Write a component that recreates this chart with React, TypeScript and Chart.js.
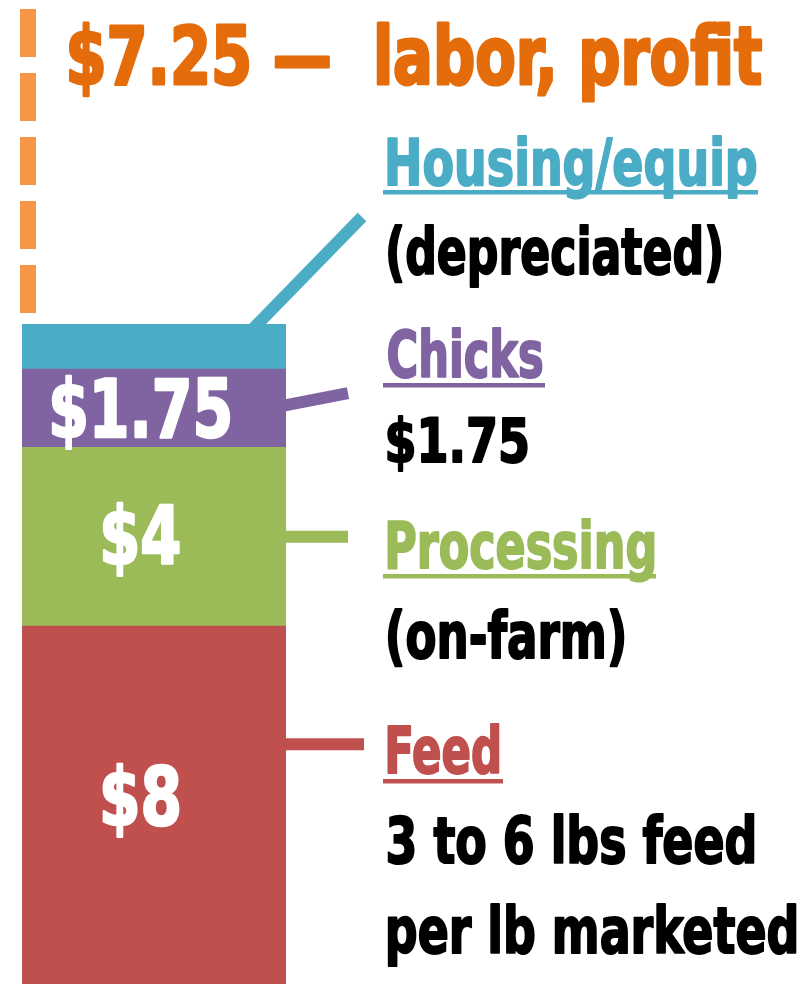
import React, { useEffect, useRef } from "react";
import { Chart, registerables } from "chart.js";

Chart.register(...registerables);

// ---- data ----
const categories = ["Cost per bird"];
const segmentNames = ["Feed", "Processing", "Chicks", "Housing/equip", "Labor, profit"];
const segmentValues = [8, 4, 1.75, 1, 7.25];
const segmentColors = ["#C0504D", "#9BBB59", "#8064A2", "#4BACC6", "rgba(0,0,0,0)"];
const barLabels = ["$8", "$4", "$1.75", "", ""];
const titleText = "$7.25 \u2014  labor, profit";

const FONT = "'DejaVu Sans Condensed', 'DejaVu Sans', sans-serif";

type TextSpec = { text: string; x: number; w: number; base: number; color: string; size: number; ul?: [number, number, number]; bold?: number };

const annotations: TextSpec[] = [
  { text: "Housing/equip", x: 387, w: 370, base: 185, color: "#4BACC6", size: 64, ul: [383, 758, 190] },
  { text: "(depreciated)", x: 387, w: 335, base: 274, color: "#000000", size: 64 },
  { text: "Chicks", x: 387, w: 156, base: 377, color: "#8064A2", size: 64, ul: [383, 545, 383] },
  { text: "$1.75", x: 387, w: 141, base: 462, color: "#000000", size: 60 },
  { text: "Processing", x: 387, w: 268, base: 568, color: "#9BBB59", size: 64, ul: [383, 656, 574] },
  { text: "(on-farm)", x: 387, w: 238, base: 658, color: "#000000", size: 64 },
  { text: "Feed", x: 387, w: 113, base: 773, color: "#C0504D", size: 64, ul: [383, 503, 779] },
  { text: "3 to 6 lbs feed", x: 387, w: 368, base: 863, color: "#000000", size: 64 },
  { text: "per lb marketed", x: 387, w: 410, base: 953, color: "#000000", size: 64 },
];

function drawFitted(ctx: CanvasRenderingContext2D, t: TextSpec) {
  ctx.save();
  ctx.font = `bold ${t.size}px ${FONT}`;
  ctx.textBaseline = "alphabetic";
  ctx.textAlign = "left";
  const m = ctx.measureText(t.text);
  const left = m.actualBoundingBoxLeft;
  const width = m.actualBoundingBoxRight + m.actualBoundingBoxLeft;
  const extra = t.bold ?? 2;
  const sx = (t.w - extra) / width;
  ctx.translate(t.x + extra / 2, t.base);
  ctx.scale(sx, 1);
  ctx.fillStyle = t.color;
  ctx.strokeStyle = t.color;
  ctx.lineJoin = "round";
  ctx.lineWidth = extra;
  ctx.fillText(t.text, left, 0);
  ctx.strokeText(t.text, left, 0);
  ctx.restore();
  if (t.ul) {
    ctx.save();
    ctx.fillStyle = t.color;
    ctx.fillRect(t.ul[0], t.ul[2], t.ul[1] - t.ul[0], 4.5);
    ctx.restore();
  }
}

const decorPlugin = {
  id: "decor",
  beforeDatasetsDraw(chart: any) {
    const ctx: CanvasRenderingContext2D = chart.ctx;
    const el = (i: number) => chart.getDatasetMeta(i).data[0];
    const feed = el(0), proc = el(1), chick = el(2), house = el(3);
    const right = feed.x + feed.width / 2;
    ctx.save();
    ctx.lineWidth = 12;
    ctx.lineCap = "butt";
    // housing leader (diagonal)
    ctx.strokeStyle = "#4BACC6";
    ctx.beginPath();
    ctx.moveTo(247.7, house.y + 10);
    ctx.lineTo(362, 217);
    ctx.stroke();
    // chicks leader
    const chickMid = (chick.y + chick.base) / 2;
    ctx.strokeStyle = "#8064A2";
    ctx.beginPath();
    ctx.moveTo(right - 10, chickMid - 1);
    ctx.lineTo(348, chickMid - 15);
    ctx.stroke();
    // processing leader
    const procMid = (proc.y + proc.base) / 2;
    ctx.strokeStyle = "#9BBB59";
    ctx.beginPath();
    ctx.moveTo(right - 10, procMid);
    ctx.lineTo(348, procMid);
    ctx.stroke();
    // feed leader
    const feedY = feed.y + (feed.base - feed.y) * 0.33;
    ctx.strokeStyle = "#C0504D";
    ctx.beginPath();
    ctx.moveTo(right - 10, feedY);
    ctx.lineTo(364, feedY);
    ctx.stroke();
    ctx.restore();
  },
  afterDraw(chart: any) {
    const ctx: CanvasRenderingContext2D = chart.ctx;
    const meta = chart.getDatasetMeta(4).data[0];
    const left = meta.x - meta.width / 2;
    // dashed labor/profit line
    ctx.save();
    ctx.strokeStyle = "#F79646";
    ctx.lineWidth = 16;
    ctx.setLineDash([48, 16]);
    ctx.beginPath();
    ctx.moveTo(left + 6, meta.y + 9);
    ctx.lineTo(left + 6, meta.base - 11);
    ctx.stroke();
    ctx.restore();

    // title
    drawFitted(ctx, { text: titleText, x: 68, w: 695, base: 84, color: "#E46C0A", size: 81, bold: 3 });

    // bar value labels
    const barLabelSpecs: Record<number, { w: number; dy: number }> = {
      0: { w: 78, dy: -10 },
      1: { w: 78, dy: -3 },
      2: { w: 180, dy: -1 },
    };
    for (let i = 0; i < 3; i++) {
      const e = chart.getDatasetMeta(i).data[0];
      const mid = (e.y + e.base) / 2 + barLabelSpecs[i].dy;
      const w = barLabelSpecs[i].w;
      drawFitted(ctx, { text: barLabels[i], x: e.x - 13 - w / 2, w, base: mid + 30, color: "#FFFFFF", size: 80, bold: 2.5 });
    }

    annotations.forEach((t) => drawFitted(ctx, t));
  },
};

export default function App() {
  const ref = useRef<HTMLCanvasElement | null>(null);
  useEffect(() => {
    if (!ref.current) return;
    const chart = new Chart(ref.current, {
      type: "bar",
      data: {
        labels: categories,
        datasets: segmentNames.map((name, i) => ({
          label: name,
          data: [segmentValues[i]],
          backgroundColor: segmentColors[i],
          borderWidth: 0,
          barPercentage: 1,
          categoryPercentage: 1,
        })),
      },
      options: {
        animation: false,
        responsive: false,
        devicePixelRatio: 1,
        layout: { padding: { left: 22, right: 526, top: 0, bottom: 1 } },
        plugins: { legend: { display: false }, tooltip: { enabled: false }, title: { display: false } },
        scales: {
          x: { stacked: true, display: false },
          y: { stacked: true, display: false, min: 0, max: 22 },
        },
      },
      plugins: [decorPlugin],
    });
    return () => chart.destroy();
  }, []);
  return (
    <div style={{ position: "fixed", left: 0, top: 0, width: 812, height: 985, background: "#fff" }}>
      <canvas ref={ref} width={812} height={985} style={{ width: 812, height: 985, display: "block" }} />
    </div>
  );
}
